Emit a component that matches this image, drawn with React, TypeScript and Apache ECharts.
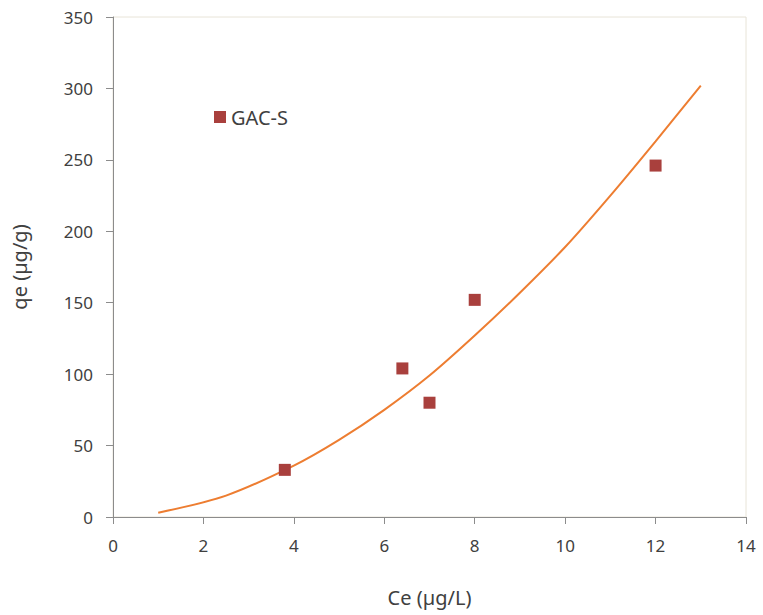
import React, { useEffect, useRef } from "react";
import * as echarts from "echarts";

const seriesName = "GAC-S";
const ceObserved = [3.8, 6.4, 7.0, 8.0, 12.0];
const qeObserved = [33, 104, 80, 152, 246];
const ceFit = [1, 2.5, 4, 5, 6, 7, 8, 9, 10, 11, 12, 13];
const qeFit = [3, 15, 36, 54, 75, 99, 127, 157, 189, 225, 263, 302];
const xAxisTitle = "Ce (µg/L)";
const yAxisTitle = "qe (µg/g)";

const FONT = "'Noto Sans', 'Open Sans', sans-serif";

export default function App() {
  const ref = useRef<HTMLDivElement>(null);
  useEffect(() => {
    if (!ref.current) return;
    const chart = echarts.init(ref.current, null, { renderer: "svg" });
    chart.setOption({
      animation: false,
      backgroundColor: "#ffffff",
      grid: { left: 113, top: 17, right: 17, bottom: 98, show: true, borderColor: "#e8e4d8", borderWidth: 1 },
      legend: {
        data: [seriesName],
        left: 209,
        top: 102,
        icon: "rect",
        itemWidth: 12,
        itemHeight: 12,
        itemGap: 6,
        textStyle: { fontFamily: FONT, fontSize: 20, color: "#404040" },
      },
      xAxis: {
        type: "value",
        min: 0,
        max: 14,
        interval: 2,
        name: xAxisTitle,
        nameLocation: "middle",
        nameGap: 70,
        nameTextStyle: { fontFamily: FONT, fontSize: 20, color: "#404040" },
        axisLine: { show: true, lineStyle: { color: "#8c8c8c", width: 1 } },
        axisTick: { show: true, length: 7, lineStyle: { color: "#8c8c8c" } },
        axisLabel: { fontFamily: FONT, fontSize: 17, color: "#404040", margin: 20 },
        splitLine: { show: false },
      },
      yAxis: {
        type: "value",
        min: 0,
        max: 350,
        interval: 50,
        name: yAxisTitle,
        nameLocation: "middle",
        nameGap: 84,
        nameRotate: 90,
        nameTextStyle: { fontFamily: FONT, fontSize: 20, color: "#404040" },
        axisLine: { show: true, lineStyle: { color: "#8c8c8c", width: 1 } },
        axisTick: { show: true, length: 7, lineStyle: { color: "#8c8c8c" } },
        axisLabel: { fontFamily: FONT, fontSize: 17, color: "#404040", margin: 20 },
        splitLine: { show: false },
      },
      series: [
        {
          name: "fit",
          type: "line",
          data: ceFit.map((x, i) => [x, qeFit[i]]),
          smooth: 0.3,
          showSymbol: false,
          symbol: "none",
          lineStyle: { color: "#ed7d31", width: 2 },
          z: 2,
        },
        {
          name: seriesName,
          type: "scatter",
          data: ceObserved.map((x, i) => [x, qeObserved[i]]),
          symbol: "rect",
          symbolSize: 12,
          itemStyle: { color: "#a9403d", opacity: 1 },
          z: 3,
        },
      ],
    });
    return () => chart.dispose();
  }, []);
  return (
    <div
      ref={ref}
      style={{ position: "absolute", left: 0, top: 0, width: 763, height: 615 }}
    />
  );
}
